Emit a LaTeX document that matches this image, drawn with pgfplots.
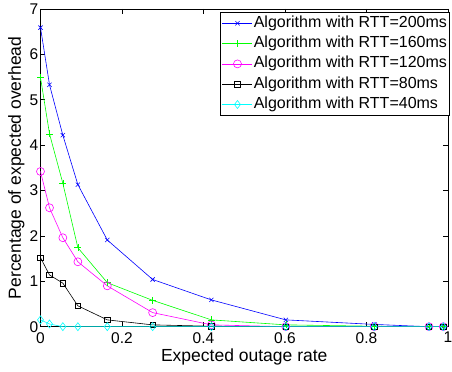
\documentclass[border=0pt]{standalone}
\usepackage{fontspec}
\setmainfont{Liberation Sans}
\usepackage{pgfplots}
\pgfplotsset{compat=1.18}
\usetikzlibrary{calc}
\definecolor{mblue}{rgb}{0,0,1}
\definecolor{mgreen}{rgb}{0,1,0}
\definecolor{mmag}{rgb}{1,0,1}
\definecolor{mcyan}{rgb}{0,1,1}
\begin{document}
\begin{tikzpicture}
\begin{axis}[
  name=ax,
  scale only axis,
  width=407.5pt, height=317.7pt,
  xmin=0, xmax=1, ymin=0, ymax=7,
  xtick={0,0.2,0.4,0.6,0.8,1},
  xticklabels={0,0.2,0.4,0.6,0.8,1},
  ytick={0,1,2,3,4,5,6,7},
  yticklabels={0,1,2,3,4,5,6,7},
  tick align=inside,
  major tick length=5pt,
  tick style={line width=0.6pt,black},
  axis line style={line width=0.8pt},
  ticklabel style={font=\fontsize{15.5}{18}\selectfont},
  yticklabel style={inner sep=2pt},
  xticklabel style={yshift=-2pt},
  xlabel={Expected outage rate},
  ylabel={Percentage of expected overhead},
  xlabel style={font=\fontsize{17.5}{21}\selectfont, at={(axis description cs:0.5,-0.1111)}, anchor=base},
  ylabel style={font=\fontsize{17.5}{21}\selectfont, at={(axis description cs:-0.0483,0.5)}, anchor=base, rotate=0},
  legend cell align=left,
  legend style={at={(axis description cs:0.4412,0.9893)}, anchor=north west,
    draw=black, line width=0.8pt, fill=white,
    font=\fontsize{16}{18}\selectfont,
    inner xsep=1.5pt, inner ysep=2pt, row sep=3.3pt,
    nodes={inner sep=1pt, text height=11.5pt, text depth=3.5pt}},
  legend image code/.code={\draw[mark repeat=2,mark phase=2,#1] plot coordinates {(0pt,0pt) (15pt,0pt) (30pt,0pt)};},
  every axis plot/.append style={line width=0.6pt},
]
\addplot[color=mblue, mark=x, mark size=3pt] coordinates {
(0,6.59) (0.0221,5.33) (0.0548,4.22) (0.0917,3.13) (0.1639,1.91) (0.2752,1.04) (0.4194,0.59) (0.602,0.15) (0.8189,0.05) (0.9533,0.0) (0.9885,0.0)};
\addlegendentry{Algorithm with RTT=200ms}
\addplot[color=mgreen, mark=+, mark size=3.5pt] coordinates {
(0,5.49) (0.0221,4.25) (0.0548,3.16) (0.0917,1.74) (0.1639,0.97) (0.2752,0.58) (0.4194,0.15) (0.602,0.04) (0.8189,0.01) (0.9533,0.0) (0.9885,0.0)};
\addlegendentry{Algorithm with RTT=160ms}
\addplot[color=mmag, mark=o, mark size=4pt] coordinates {
(0,3.42) (0.0221,2.62) (0.0548,1.96) (0.0917,1.43) (0.1639,0.90) (0.2752,0.31) (0.4194,0.04) (0.602,0.0) (0.8189,0.0) (0.9533,0.0) (0.9885,0.0)};
\addlegendentry{Algorithm with RTT=120ms}
\addplot[color=black, mark=square, mark size=2.8pt] coordinates {
(0,1.52) (0.0221,1.14) (0.0548,0.96) (0.0917,0.46) (0.1639,0.15) (0.2752,0.04) (0.4194,0.01) (0.602,0.0) (0.8189,0.0) (0.9533,0.0) (0.9885,0.0)};
\addlegendentry{Algorithm with RTT=80ms}
\addplot[color=mcyan, mark=diamond, mark size=4pt] coordinates {
(0,0.15) (0.0221,0.06) (0.0548,0.0) (0.0917,0.0) (0.1639,0.0) (0.2752,0.0) (0.4194,0.0) (0.602,0.0) (0.8189,0.0) (0.9533,0.0) (0.9885,0.0)};
\addlegendentry{Algorithm with RTT=40ms}
\end{axis}
\pgfresetboundingbox
\path[use as bounding box] ($(ax.south west)+(-40.5pt,-45.3pt)$) rectangle ($(ax.north east)+(4pt,9pt)$);
\end{tikzpicture}
\end{document}
